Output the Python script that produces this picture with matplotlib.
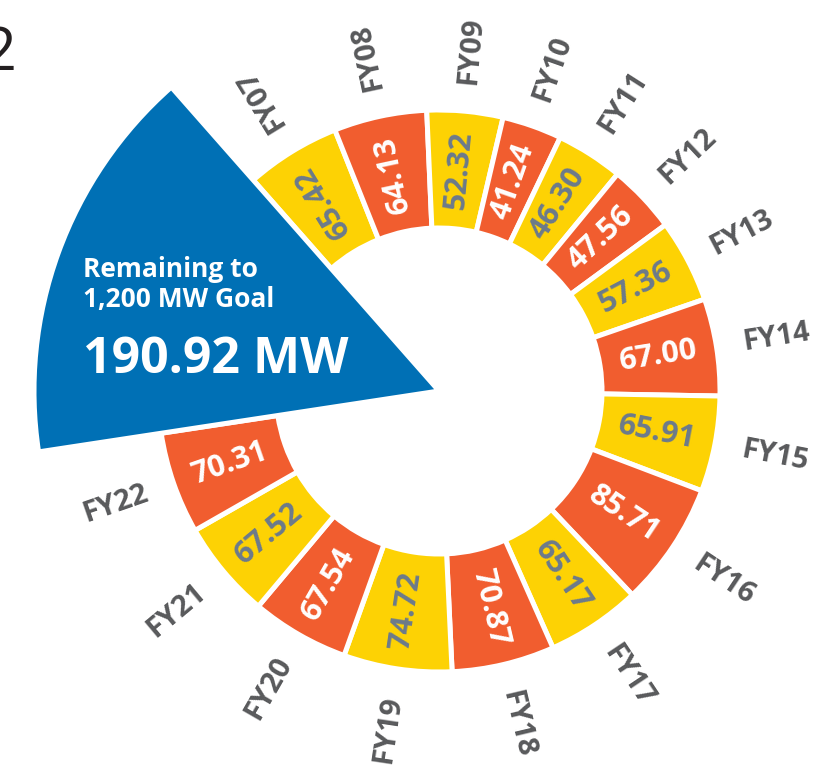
import numpy as np
import matplotlib.pyplot as plt

# data
years = ['FY07', 'FY08', 'FY09', 'FY10', 'FY11', 'FY12', 'FY13', 'FY14',
         'FY15', 'FY16', 'FY17', 'FY18', 'FY19', 'FY20', 'FY21', 'FY22']
values = [65.42, 64.13, 52.32, 41.24, 46.30, 47.56, 57.36, 67.00,
          65.91, 85.71, 65.17, 70.87, 74.72, 67.54, 67.52, 70.31]
remaining = 190.92
goal = 1200

# style
YELLOW = '#FDD204'
ORANGE = '#F15D2F'
BLUE = '#0070B5'
GREY_TXT = '#6B7A8C'
LABEL_TXT = '#58595B'
FONT = 'Open Sans'

R_IN, R_OUT, R_BLUE, R_LAB, RMAX = 163, 281, 405, 342, 420
START = 131.37  # degrees, where FY07 begins (going clockwise)

vals = np.array(values)
deg = 360.0 / goal
ends = START - np.cumsum(vals) * deg
starts = ends + vals * deg
centers = (starts + ends) / 2
colors = [YELLOW if i % 2 == 0 else ORANGE for i in range(len(vals))]

fig = plt.figure(figsize=(8.38, 7.65), dpi=100)
cx, cy = 439, 765 - 391
ax = fig.add_axes([(cx - RMAX) / 838, (cy - RMAX) / 765, 2 * RMAX / 838, 2 * RMAX / 765],
                  projection='polar')

ax.bar(np.radians(centers), R_OUT - R_IN, width=np.radians(vals * deg), bottom=R_IN,
       color=colors, edgecolor='white', linewidth=3.6)

blue_c = START + remaining * deg / 2
ax.bar(np.radians(blue_c), R_BLUE, width=np.radians(remaining * deg), bottom=0,
       color=BLUE, edgecolor='white', linewidth=3.6)


def rot(a):
    return a if a >= -90 else a + 180


for yr, v, c, col in zip(years, vals, centers, colors):
    t = np.radians(c)
    ax.text(t, (R_IN + R_OUT) / 2, f'{v:.2f}', rotation=rot(c), rotation_mode='anchor',
            ha='center', va='center', fontsize=22, fontweight='bold', family=FONT,
            color=GREY_TXT if col == YELLOW else 'white')
    ax.text(t, R_LAB, yr, rotation=rot(c), rotation_mode='anchor',
            ha='center', va='center', fontsize=21, fontweight='bold', family=FONT,
            color=LABEL_TXT)

ax.set_ylim(0, RMAX)
ax.axis('off')

fig.text(83 / 838, 1 - 277 / 765, 'Remaining to', ha='left', va='baseline',
         fontsize=19, fontweight='bold', family=FONT, color='white')
fig.text(83 / 838, 1 - 307 / 765, '1,200 MW Goal', ha='left', va='baseline',
         fontsize=19, fontweight='bold', family=FONT, color='white')
fig.text(83 / 838, 1 - 373 / 765, f'{remaining:.2f} MW', ha='left', va='baseline',
         fontsize=36, fontweight='bold', family=FONT, color='white')

# page number cut off at the left edge
fig.text(17 / 838, 1 - 70 / 765, '2', ha='right', va='baseline', fontsize=44,
         family=FONT, color='#231F20')

fig.savefig('out.png', dpi=100)
